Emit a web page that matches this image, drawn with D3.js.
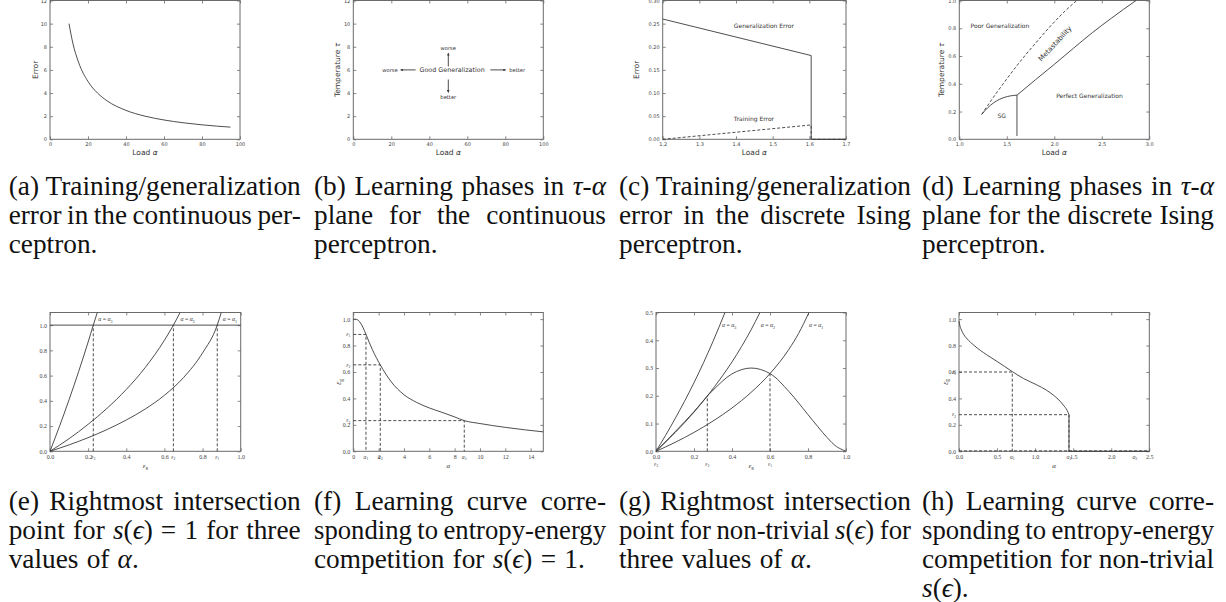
<!DOCTYPE html>
<html>
<head>
<meta charset="utf-8">
<script src="https://cdn.jsdelivr.net/npm/d3@7"></script>
<style>
  body { margin: 0; background: #fff; }
  svg { display: block; }
</style>
</head>
<body>
<svg id="fig" width="1226" height="602"></svg>
<script>
// ---------- data ----------
// (a) continuous perceptron, error vs load
const loadA = [10, 12, 15, 20, 25, 30, 40, 50, 60, 70, 80, 95];
const errorA = [10, 8.33, 6.67, 5.0, 4.0, 3.33, 2.5, 2.0, 1.67, 1.43, 1.25, 1.05];

// (c) discrete Ising perceptron
const loadC = [1.2, 1.605, 1.605, 1.7];
const genErrC = [0.26, 0.181, 0, 0];
const trainErrC = [0.0, 0.031, 0, 0];

// (d) phase boundaries
const dashAlphaD = [1.236, 1.30, 1.40, 1.50, 1.60, 1.70, 1.80, 1.90, 2.00, 2.10, 2.236];
const dashTauD = [0.18, 0.245, 0.342, 0.435, 0.525, 0.61, 0.69, 0.77, 0.845, 0.915, 1.0];
const sgAlphaD = [1.236, 1.30, 1.36, 1.42, 1.48, 1.54, 1.607];
const sgTauD = [0.18, 0.228, 0.262, 0.287, 0.303, 0.313, 0.318];
const wallAlphaD = [1.607, 1.607];
const wallTauD = [0.318, 0.024];
const perfAlphaD = [1.607, 1.8, 2.0, 2.2, 2.4, 2.6, 2.86];
const perfTauD = [0.318, 0.428, 0.54, 0.655, 0.768, 0.872, 1.0];

// (e) s(eps)=1, three loads
const epsE3 = [0, 0.05, 0.1, 0.15, 0.2, 0.227, 0.248];
const valE3 = [0, 0.199, 0.409, 0.631, 0.866, 1.0, 1.1];
const epsE2 = [0, 0.1, 0.2, 0.3, 0.4, 0.5, 0.6, 0.647, 0.682];
const valE2 = [0, 0.10, 0.214, 0.342, 0.49, 0.665, 0.88, 1.0, 1.1];
const epsE1 = [0, 0.1, 0.2, 0.3, 0.4, 0.5, 0.6, 0.7, 0.8, 0.877, 0.898];
const valE1 = [0, 0.051, 0.108, 0.173, 0.248, 0.336, 0.444, 0.584, 0.78, 1.0, 1.1];
const crossE = [0.227, 0.647, 0.877];          // eps3, eps2, eps1

// (f) learning curve for s(eps)=1
const alphaF = [0, 0.25, 0.5, 0.75, 1.0, 1.5, 2.13, 3, 4, 5, 6, 7, 8, 8.76, 10, 12, 15];
const epsF = [1.0, 0.998, 0.98, 0.94, 0.884, 0.77, 0.654, 0.525, 0.428, 0.37, 0.328, 0.295, 0.26, 0.232, 0.21, 0.181, 0.147];
const markAlphaF = [1.0, 2.13, 8.76];
const markEpsF = [0.884, 0.654, 0.232];

// (g) non-trivial s(eps)
const epsBump = [0, 0.1, 0.2, 0.27, 0.3, 0.4, 0.5, 0.6, 0.7, 0.8, 0.9, 0.95, 1.0];
const valBump = [0, 0.07, 0.143, 0.199, 0.22, 0.279, 0.30, 0.28, 0.215, 0.132, 0.05, 0.017, 0];
const epsG3 = [0, 0.05, 0.1, 0.15, 0.2, 0.25, 0.3, 0.363];
const valG3 = [0, 0.057, 0.117, 0.18, 0.247, 0.319, 0.396, 0.5];
const epsG2 = [0, 0.1, 0.2, 0.27, 0.35, 0.4, 0.45, 0.5, 0.547];
const valG2 = [0, 0.067, 0.141, 0.199, 0.272, 0.322, 0.377, 0.437, 0.5];
const epsG1 = [0, 0.1, 0.2, 0.3, 0.4, 0.5, 0.6, 0.7, 0.75, 0.805];
const valG1 = [0, 0.032, 0.068, 0.109, 0.156, 0.212, 0.28, 0.368, 0.424, 0.5];
const crossG = [0.27, 0.6];
const crossValG = [0.199, 0.28];

// (h) learning curve for non-trivial s(eps)
const alphaH = [0, 0.01, 0.03, 0.06, 0.1, 0.2, 0.364, 0.5, 0.7, 0.85, 1.02, 1.15, 1.24, 1.3, 1.37, 1.42, 1.445];
const epsH = [0.985, 0.955, 0.92, 0.885, 0.855, 0.8, 0.73, 0.68, 0.603, 0.55, 0.503, 0.462, 0.425, 0.395, 0.35, 0.31, 0.277];
const markAlphaH = [0.70, 1.445, 2.31];
const markEpsH = [0.6, 0.277, 0.0];

// captions
const captions = [
  ['(a) Training/generalization', 'error in the continuous per-', 'ceptron.'],
  ['(b) Learning phases in {τ}-{α}', 'plane for the continuous', 'perceptron.'],
  ['(c) Training/generalization', 'error in the discrete Ising', 'perceptron.'],
  ['(d) Learning phases in {τ}-{α}', 'plane for the discrete Ising', 'perceptron.'],
  ['(e) Rightmost intersection', 'point for {s}({ϵ}) = 1 for three', 'values of {α}.'],
  ['(f) Learning curve corre-', 'sponding to entropy-energy', 'competition for {s}({ϵ}) = 1.'],
  ['(g) Rightmost intersection', 'point for non-trivial {s}({ϵ}) for', 'three values of {α}.'],
  ['(h) Learning curve corre-', 'sponding to entropy-energy', 'competition for non-trivial', '{s}({ϵ}).']
];

// ---------- drawing ----------
const svg = d3.select('#fig');
const sansFont = "'DejaVu Sans', sans-serif";
const serifFont = "'Liberation Serif', 'DejaVu Serif', serif";
const frameColor = '#6a6a6a';
const lineColor = '#3a3a3a';
const tickColor = '#444';
const textColor = '#333';

svg.append('defs').append('marker')
    .attr('id', 'head')
    .attr('viewBox', '0 0 10 10')
    .attr('refX', 9).attr('refY', 5)
    .attr('markerWidth', 3).attr('markerHeight', 3)
    .attr('orient', 'auto')
  .append('path')
    .attr('d', 'M0,0L10,5L0,10z')
    .attr('fill', lineColor);

// {x} = italic, _x = subscript
function rich(sel, str) {
  const re = /\{([^}]*)\}|_(\w)|([^{_]+)/g;
  let m;
  while ((m = re.exec(str))) {
    if (m[1] !== undefined) sel.append('tspan').attr('font-style', 'italic').text(m[1]);
    else if (m[2] !== undefined) sel.append('tspan').attr('font-size', '70%').attr('dy', '0.3em').text(m[2]);
    else sel.append('tspan').text(m[3]);
  }
  return sel;
}

function panel(p) {
  const w = p.x1 - p.x0, h = p.y1 - p.y0;
  const g = svg.append('g').attr('transform', `translate(${p.x0},${p.y0})`);
  const x = d3.scaleLinear().domain(p.xDomain).range([0, w]);
  const y = d3.scaleLinear().domain(p.yDomain).range([h, 0]);
  const fam = p.serif ? serifFont : sansFont;
  const fs = p.serif ? 6 : 5;

  const style = a => {
    a.select('.domain').remove();
    a.selectAll('line').attr('stroke', frameColor).attr('stroke-width', 0.8);
    a.selectAll('text').attr('font-family', fam).attr('font-size', fs).attr('fill', tickColor);
  };

  g.append('g').attr('transform', `translate(0,${h})`)
    .call(d3.axisBottom(x).tickValues(p.xTicks).tickFormat(p.xFormat).tickSize(-3).tickPadding(3.5))
    .call(style);
  g.append('g')
    .call(d3.axisTop(x).tickValues(p.xTicks).tickFormat('').tickSize(-3))
    .call(style);
  g.append('g')
    .call(d3.axisLeft(y).tickValues(p.yTicks).tickFormat(p.yFormat).tickSize(-3).tickPadding(3))
    .call(style);
  g.append('g').attr('transform', `translate(${w},0)`)
    .call(d3.axisRight(y).tickValues(p.yTicks).tickFormat('').tickSize(-3))
    .call(style);

  g.append('rect')
    .attr('width', w).attr('height', h)
    .attr('fill', 'none').attr('stroke', frameColor).attr('stroke-width', 1);

  const P = { g, x, y, w, h, fam, fs, serif: p.serif };

  if (p.xLabel) {
    const t = g.append('text')
      .attr('x', w / 2).attr('y', h + p.xLabelDy)
      .attr('dy', '0.35em').attr('text-anchor', 'middle')
      .attr('font-family', fam).attr('font-size', p.serif ? 7 : 7.5)
      .attr('fill', textColor);
    rich(t, p.xLabel);
  }
  if (p.yLabel) {
    const t = g.append('text')
      .attr('transform', `translate(${p.yLabelX - p.x0},${h / 2}) rotate(-90)`)
      .attr('dy', '0.35em').attr('text-anchor', 'middle')
      .attr('font-family', fam).attr('font-size', p.serif ? 8 : 7.5)
      .attr('fill', textColor);
    rich(t, p.yLabel);
  }
  return P;
}

function curve(P, xs, ys, dashed, kind) {
  const pts = xs.map((v, i) => [v, ys[i]]);
  P.g.append('path')
    .datum(pts)
    .attr('d', d3.line().x(d => P.x(d[0])).y(d => P.y(d[1])).curve(kind || d3.curveMonotoneX))
    .attr('fill', 'none')
    .attr('stroke', lineColor)
    .attr('stroke-width', 0.9)
    .attr('stroke-dasharray', dashed ? '3,2' : null);
}

function note(P, xv, yv, str, size, anchor, fam) {
  const t = P.g.append('text')
    .attr('x', P.x(xv)).attr('y', P.y(yv))
    .attr('dy', '0.35em')
    .attr('text-anchor', anchor || 'middle')
    .attr('font-family', fam || P.fam)
    .attr('font-size', size)
    .attr('fill', textColor);
  return rich(t, str);
}

function arrow(P, xa, ya, xb, yb) {
  P.g.append('line')
    .attr('x1', P.x(xa)).attr('y1', P.y(ya))
    .attr('x2', P.x(xb)).attr('y2', P.y(yb))
    .attr('stroke', lineColor).attr('stroke-width', 0.9)
    .attr('marker-end', 'url(#head)');
}

// extra tick labels (eps_i / alpha_i) on the bottom row
function extraX(P, values, names, dy) {
  values.forEach((v, i) => {
    const t = P.g.append('text')
      .attr('x', P.x(v)).attr('y', P.h + 3.5 + (dy || 0))
      .attr('dy', '0.71em').attr('text-anchor', 'middle')
      .attr('font-family', serifFont).attr('font-size', 5.5).attr('fill', tickColor);
    rich(t, names[i]);
  });
}
function extraY(P, values, names) {
  values.forEach((v, i) => {
    const t = P.g.append('text')
      .attr('x', -3).attr('y', P.y(v))
      .attr('dy', '0.32em').attr('text-anchor', 'end')
      .attr('font-family', serifFont).attr('font-size', 5.5).attr('fill', tickColor);
    rich(t, names[i]);
  });
}

const topRow = { y0: 0.5, y1: 139.3, xLabelDy: 13.3 };
const botRow = { y0: 312.5, y1: 451.3, xLabelDy: 13.8, serif: true };
const f1 = d3.format('.1f'), f2 = d3.format('.2f'), fd = d3.format('d');

// (a)
const A = panel({ ...topRow, x0: 50, x1: 240,
  xDomain: [0, 100], xTicks: d3.range(0, 101, 20), xFormat: fd,
  yDomain: [0, 12], yTicks: d3.range(0, 13, 2), yFormat: fd,
  xLabel: 'Load {α}', yLabel: 'Error', yLabelX: 35 });
curve(A, loadA, errorA, false);

// (b)
const B = panel({ ...topRow, x0: 353.3, x1: 543.3,
  xDomain: [0, 100], xTicks: d3.range(0, 101, 20), xFormat: fd,
  yDomain: [0, 12], yTicks: d3.range(0, 13, 2), yFormat: fd,
  xLabel: 'Load {α}', yLabel: 'Temperature {τ}', yLabelX: 337.3 });
note(B, 52, 6, 'Good Generalization', 6.4);
note(B, 19.3, 6, 'worse', 5.2);
note(B, 86.3, 6, 'better', 5.2);
note(B, 50, 7.9, 'worse', 5.2);
note(B, 50, 3.65, 'better', 5.2);
arrow(B, 32.8, 6, 24.9, 6);
arrow(B, 72.1, 6, 80.2, 6);
arrow(B, 50, 6.3, 50, 7.45);
arrow(B, 50, 5.17, 50, 4.05);

// (c)
const C = panel({ ...topRow, x0: 662.7, x1: 846,
  xDomain: [1.2, 1.7], xTicks: [1.2, 1.3, 1.4, 1.5, 1.6, 1.7], xFormat: f1,
  yDomain: [0, 0.3], yTicks: [0, 0.05, 0.1, 0.15, 0.2, 0.25, 0.3], yFormat: f2,
  xLabel: 'Load {α}', yLabel: 'Error', yLabelX: 636 });
curve(C, loadC, genErrC, false, d3.curveLinear);
curve(C, loadC, trainErrC, true, d3.curveLinear);
note(C, 1.476, 0.245, 'Generalization Error', 6);
note(C, 1.449, 0.045, 'Training Error', 6);

// (d)
const D = panel({ ...topRow, x0: 959.3, x1: 1149.3,
  xDomain: [1, 3], xTicks: [1, 1.5, 2, 2.5, 3], xFormat: f1,
  yDomain: [0, 1], yTicks: [0, 0.2, 0.4, 0.6, 0.8, 1.0], yFormat: f1,
  xLabel: 'Load {α}', yLabel: 'Temperature {τ}', yLabelX: 941 });
curve(D, dashAlphaD, dashTauD, true);
curve(D, sgAlphaD, sgTauD, false);
curve(D, wallAlphaD, wallTauD, false, d3.curveLinear);
curve(D, perfAlphaD, perfTauD, false);
note(D, 1.428, 0.816, 'Poor Generalization', 6);
note(D, 2.37, 0.314, 'Perfect Generalization', 6);
note(D, 1.446, 0.168, 'SG', 6);
note(D, 2.007, 0.69, 'Metastability', 7)
  .attr('transform', `rotate(-47,${D.x(2.007)},${D.y(0.69)})`);

// (e)
const E = panel({ ...botRow, x0: 50, x1: 240.7,
  xDomain: [0, 1], xTicks: [0, 0.2, 0.4, 0.6, 0.8, 1.0], xFormat: f1,
  yDomain: [0, 1.1], yTicks: [0, 0.2, 0.4, 0.6, 0.8, 1.0], yFormat: f1,
  xLabel: '{ε}_g' });
curve(E, [0, 1], [1, 1], false, d3.curveLinear);
curve(E, epsE3, valE3, false);
curve(E, epsE2, valE2, false);
curve(E, epsE1, valE1, false);
crossE.forEach(c => curve(E, [c, c], [0, 1], true, d3.curveLinear));
note(E, 0.253, 1.045, '{α} = {α}_3', 5.8, 'start');
note(E, 0.684, 1.045, '{α} = {α}_2', 5.8, 'start');
note(E, 0.906, 1.045, '{α} = {α}_1', 5.8, 'start');
extraX(E, crossE, ['{ε}_3', '{ε}_2', '{ε}_1']);

// (f)
const F = panel({ ...botRow, x0: 353.3, x1: 543.3,
  xDomain: [0, 15], xTicks: d3.range(0, 15, 2), xFormat: fd,
  yDomain: [0, 1.05], yTicks: [0, 0.2, 0.4, 0.6, 0.8, 1.0], yFormat: f1,
  xLabel: '{α}', yLabel: '{ε}_g', yLabelX: 338.3 });
curve(F, alphaF, epsF, false);
markAlphaF.forEach((a, i) =>
  curve(F, [0, a, a], [markEpsF[i], markEpsF[i], 0], true, d3.curveLinear));
extraX(F, markAlphaF, ['{α}_1', '{α}_2', '{α}_3']);
extraY(F, markEpsF, ['{ε}_1', '{ε}_2', '{ε}_3']);

// (g)
const G = panel({ ...botRow, x0: 656, x1: 846,
  xDomain: [0, 1], xTicks: [0, 0.2, 0.4, 0.6, 0.8, 1.0], xFormat: f1,
  yDomain: [0, 0.5], yTicks: [0, 0.1, 0.2, 0.3, 0.4, 0.5], yFormat: f1,
  xLabel: '{ε}_g' });
curve(G, epsBump, valBump, false, d3.curveCatmullRom);
curve(G, epsG3, valG3, false);
curve(G, epsG2, valG2, false);
curve(G, epsG1, valG1, false);
crossG.forEach((c, i) => curve(G, [c, c], [0, crossValG[i]], true, d3.curveLinear));
note(G, 0.347, 0.454, '{α} = {α}_3', 5.8, 'start');
note(G, 0.551, 0.454, '{α} = {α}_2', 5.8, 'start');
note(G, 0.805, 0.454, '{α} = {α}_1', 5.8, 'start');
extraX(G, [0, 0.27, 0.6], ['{ε}_3', '{ε}_2', '{ε}_1'], 7);

// (h)
const H = panel({ ...botRow, x0: 959, x1: 1149.3,
  xDomain: [0, 2.5], xTicks: [0, 0.5, 1, 1.5, 2, 2.5], xFormat: f1,
  yDomain: [0, 1.05], yTicks: [0, 0.2, 0.4, 0.6, 0.8, 1.0], yFormat: f1,
  xLabel: '{α}', yLabel: '{ε}_g', yLabelX: 945 });
curve(H, alphaH, epsH, false);
curve(H, [1.445, 1.445, 2.5], [0.277, 0, 0], false, d3.curveLinear);
curve(H, [0, 0.70, 0.70], [0.6, 0.6, 0], true, d3.curveLinear);
curve(H, [0, 1.445, 1.445], [0.277, 0.277, 0], true, d3.curveLinear);
curve(H, [0, 2.5], [0.003, 0.003], true, d3.curveLinear);
extraX(H, markAlphaH, ['{α}_1', '{α}_2', '{α}_3']);
extraY(H, markEpsH.slice(0, 2), ['{ε}_1', '{ε}_2']);

// ---------- captions (justified lines) ----------
const capWidth = 292;
const capLeft = [8.7, 314, 619, 922];
const capLineH = 29;
const capCenter = [187, 502];

const probe = svg.append('text').attr('font-family', serifFont).attr('font-size', 20)
  .text('(a) Training/generalization');
const capSize = 20 * capWidth / probe.node().getComputedTextLength();
probe.remove();

captions.forEach((lines, k) => {
  const x0 = capLeft[k % 4];
  const base = capCenter[Math.floor(k / 4)] + 0.3 * capSize;
  lines.forEach((ln, i) => {
    const words = ln.split(' ');
    const nodes = words.map(wd => rich(svg.append('text')
      .attr('x', 0)
      .attr('y', base + i * capLineH)
      .attr('font-family', serifFont)
      .attr('font-size', capSize)
      .attr('fill', '#111'), wd));
    const widths = nodes.map(t => t.node().getComputedTextLength());
    const total = d3.sum(widths);
    const last = i === lines.length - 1;
    const minGap = 0.2 * capSize;
    let gap = 0.3 * capSize, k2 = 1;
    if (!last && words.length > 1) {
      gap = (capWidth - total) / (words.length - 1);
      if (gap < minGap) {
        gap = minGap;
        k2 = (capWidth - (words.length - 1) * minGap) / total;
      }
    }
    let cx = x0;
    nodes.forEach((t, j) => {
      t.attr('transform', `translate(${cx},0) scale(${k2},1)`);
      cx += widths[j] * k2 + gap;
    });
  });
});
</script>
</body>
</html>
